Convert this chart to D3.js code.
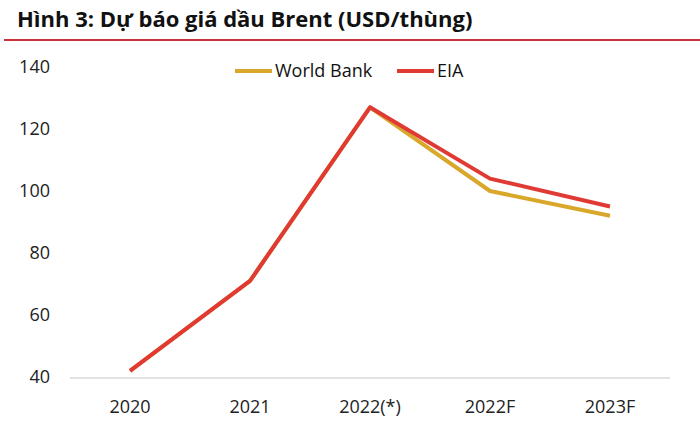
<!DOCTYPE html>
<html>
<head>
<meta charset="utf-8">
<script src="https://cdn.jsdelivr.net/npm/d3@7"></script>
<style>
  body { margin: 0; background: #fff; }
  svg { display: block; font-family: "Open Sans", sans-serif; }
</style>
</head>
<body>
<svg id="chart" width="700" height="424"></svg>
<script>
const categories = ["2020", "2021", "2022(*)", "2022F", "2023F"];
const worldBank = [42, 71, 127, 100, 92];
const eia = [42, 71, 127, 104, 95];
const yTicks = [40, 60, 80, 100, 120, 140];

const series = [
  { name: "World Bank", color: "#d9a72a", values: worldBank },
  { name: "EIA", color: "#e03a35", values: eia }
];

const svg = d3.select("#chart");

// title
svg.append("text")
  .attr("x", 17)
  .attr("y", 27)
  .style("font-size", "22px")
  .style("font-weight", "bold")
  .attr("fill", "#111")
  .text("Hình 3: Dự báo giá dầu Brent (USD/thùng)");

svg.append("line")
  .attr("x1", 4).attr("x2", 700)
  .attr("y1", 40).attr("y2", 40)
  .attr("stroke", "#c9333b")
  .attr("stroke-width", 2);

const x = d3.scaleBand().domain(categories).range([70, 670]);
const y = d3.scaleLinear().domain([40, 140]).range([377, 67]);

// y labels
svg.append("g")
  .selectAll("text")
  .data(yTicks)
  .enter()
  .append("text")
  .attr("x", 50)
  .attr("y", d => y(d))
  .attr("dy", "0.35em")
  .attr("text-anchor", "end")
  .style("font-size", "18px")
  .attr("fill", "#222")
  .text(d => d);

// baseline
svg.append("line")
  .attr("x1", 70).attr("x2", 670)
  .attr("y1", y(40) + 1).attr("y2", y(40) + 1)
  .attr("stroke", "#d9d9d9")
  .attr("stroke-width", 1.5);

// x labels
svg.append("g")
  .selectAll("text")
  .data(categories)
  .enter()
  .append("text")
  .attr("x", d => x(d) + x.bandwidth() / 2)
  .attr("y", 413)
  .attr("text-anchor", "middle")
  .style("font-size", "18px")
  .attr("fill", "#222")
  .text(d => d);

const line = d3.line()
  .x((d, i) => x(categories[i]) + x.bandwidth() / 2)
  .y(d => y(d));

svg.append("g")
  .selectAll("path")
  .data(series)
  .enter()
  .append("path")
  .attr("d", d => line(d.values))
  .attr("fill", "none")
  .attr("stroke", d => d.color)
  .attr("stroke-width", 4)
  .attr("stroke-linejoin", "round");

// legend
const legendX = [235, 397];
const legend = svg.append("g")
  .selectAll("g")
  .data(series)
  .enter()
  .append("g")
  .attr("transform", (d, i) => "translate(" + legendX[i] + ",71)");

legend.append("line")
  .attr("x1", 0).attr("x2", 37)
  .attr("stroke", d => d.color)
  .attr("stroke-width", 4);

legend.append("text")
  .attr("x", 40)
  .attr("dy", "0.35em")
  .style("font-size", "18px")
  .attr("fill", "#111")
  .text(d => d.name);
</script>
</body>
</html>
